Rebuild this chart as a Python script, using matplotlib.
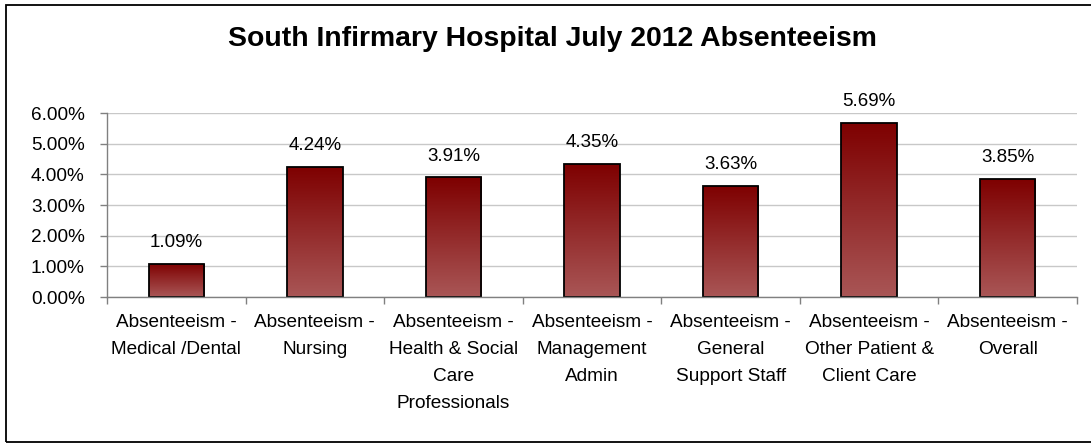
import matplotlib
matplotlib.use("Agg")
import matplotlib.pyplot as plt
import numpy as np
from matplotlib.colors import LinearSegmentedColormap
from matplotlib.patches import Rectangle
from matplotlib.ticker import FuncFormatter, MultipleLocator

plt.rcParams['font.family'] = ['Liberation Sans', 'DejaVu Sans']

title = "South Infirmary Hospital July 2012 Absenteeism"
categories = [
    "Absenteeism -\nMedical /Dental",
    "Absenteeism -\nNursing",
    "Absenteeism -\nHealth & Social\nCare\nProfessionals",
    "Absenteeism -\nManagement\nAdmin",
    "Absenteeism -\nGeneral\nSupport Staff",
    "Absenteeism -\nOther Patient &\nClient Care",
    "Absenteeism -\nOverall",
]
values = [1.09, 4.24, 3.91, 4.35, 3.63, 5.69, 3.85]  # percent

W, H = 1091, 444
fig = plt.figure(figsize=(W / 100, H / 100), dpi=100)
fig.patch.set_facecolor("white")

# outer chart border (right edge lies outside the image, as in the reference)
fig.add_artist(Rectangle((6 / W, 1 - 442 / H), (1100 - 6) / W, (442 - 5) / H,
                         transform=fig.transFigure, fill=False,
                         edgecolor="black", linewidth=1.3, clip_on=False))

ax = fig.add_axes([107 / W, 1 - 297 / H, (1077 - 107) / W, (297 - 113) / H])

cmap = LinearSegmentedColormap.from_list("redgrad", ["#A95656", "#7E0000"])
grad = np.linspace(0, 1, 256).reshape(-1, 1)

x = np.arange(len(values))
bw = 0.4
bars = ax.bar(x, values, width=bw, facecolor="none", edgecolor="black",
              linewidth=1.3, zorder=4)
for b in bars:
    x0, y0 = b.get_x(), b.get_y()
    w, h = b.get_width(), b.get_height()
    im = ax.imshow(grad, extent=[x0, x0 + w, y0, y0 + h], origin="lower",
                   aspect="auto", cmap=cmap, zorder=3, interpolation="bilinear")
    im.set_clip_path(b)

for xi, v in zip(x, values):
    ax.annotate(f"{v:.2f}%", (xi, v), xytext=(0, 9), textcoords="offset points",
                ha="center", va="bottom", fontsize=13.5, color="black")

ax.set_xlim(-0.5, len(values) - 0.5)
ax.set_ylim(0, 6)
ax.yaxis.set_major_locator(MultipleLocator(1))
ax.yaxis.set_major_formatter(FuncFormatter(lambda v, p: f"{v:.2f}%"))
ax.set_xticks(np.arange(len(values) + 1) - 0.5)
ax.set_xticklabels([])
ax.set_xticks(x, minor=True)
ax.set_xticklabels(categories, minor=True, fontsize=13.7, linespacing=1.78,
                   va="top", ha="center")
ax.tick_params(axis="x", which="minor", length=0, pad=12)
ax.tick_params(axis="x", which="major", length=5, width=1, color="#808080",
               direction="out")
ax.tick_params(axis="y", length=5, width=1, color="#808080", direction="out",
               labelsize=13.7, pad=11)

ax.grid(axis="y", color="#C8C8C8", linewidth=1)
ax.set_axisbelow(True)
for s in ["top", "right"]:
    ax.spines[s].set_visible(False)
for s in ["left", "bottom"]:
    ax.spines[s].set_color("#808080")
    ax.spines[s].set_linewidth(1)
    ax.spines[s].set_zorder(5)

fig.text(552 / W, 1 - 39 / H, title, ha="center", va="center",
         fontsize=20.4, fontweight="bold")

fig.savefig("out.png", dpi=100)
